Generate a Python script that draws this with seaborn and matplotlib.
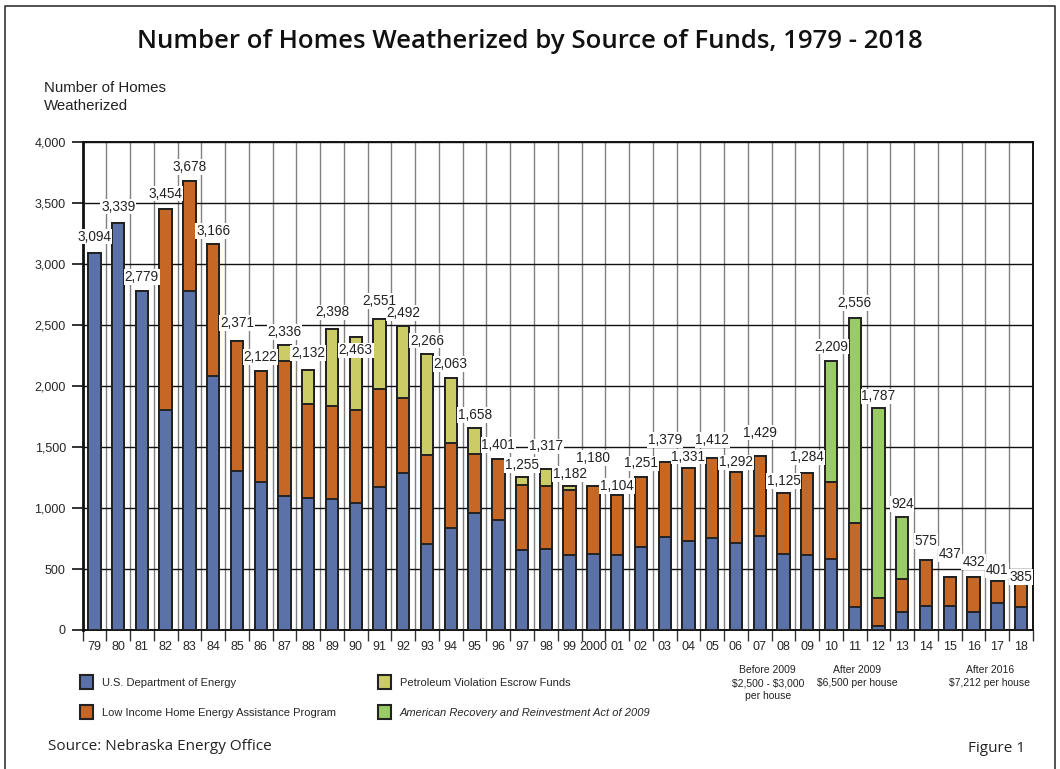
import matplotlib
matplotlib.use("Agg")
import matplotlib.pyplot as plt
import seaborn as sns
import pandas as pd
import numpy as np
from matplotlib.patches import Patch
from matplotlib.lines import Line2D
from matplotlib import font_manager

# ---------------- data ----------------
years = ["79", "80", "81", "82", "83", "84", "85", "86", "87", "88", "89", "90",
         "91", "92", "93", "94", "95", "96", "97", "98", "99", "2000", "01", "02",
         "03", "04", "05", "06", "07", "08", "09", "10", "11", "12", "13", "14",
         "15", "16", "17", "18"]

doe = [3094, 3339, 2779, 1800, 2779, 2085, 1303, 1210, 1098, 1079, 1071, 1044,
       1175, 1290, 702, 836, 962, 904, 656, 661, 615, 620, 612, 683,
       765, 727, 757, 710, 768, 626, 612, 579, 186, 36, 145, 197,
       197, 148, 224, 186]

liheap = [0, 0, 0, 1654, 899, 1081, 1068, 912, 1110, 773, 768, 759,
          798, 609, 735, 694, 481, 497, 530, 517, 530, 560, 492, 568,
          614, 604, 655, 582, 661, 499, 672, 637, 688, 224, 270, 378,
          240, 284, 177, 199]

pve = [0, 0, 0, 0, 0, 0, 0, 0, 128, 280, 625, 596,
       578, 593, 829, 533, 215, 0, 69, 139, 37, 0, 0, 0,
       0, 0, 0, 0, 0, 0, 0, 0, 0, 0, 0, 0,
       0, 0, 0, 0]

arra = [0, 0, 0, 0, 0, 0, 0, 0, 0, 0, 0, 0,
        0, 0, 0, 0, 0, 0, 0, 0, 0, 0, 0, 0,
        0, 0, 0, 0, 0, 0, 0, 993, 1682, 1557, 509, 0,
        0, 0, 0, 0]

total_labels = ["3,094", "3,339", "2,779", "3,454", "3,678", "3,166", "2,371", "2,122",
                "2,336", "2,132", "2,398", "2,463", "2,551", "2,492", "2,266", "2,063",
                "1,658", "1,401", "1,255", "1,317", "1,182", "1,180", "1,104", "1,251",
                "1,379", "1,331", "1,412", "1,292", "1,429", "1,125", "1,284", "2,209",
                "2,556", "1,787", "924", "575", "437", "432", "401", "385"]

series_names = ["U.S. Department of Energy",
                "Low Income Home Energy Assistance Program",
                "Petroleum Violation Escrow Funds",
                "American Recovery and Reinvestment Act of 2009"]

notes = ["Before 2009\n$2,500 - $3,000\nper house",
         "After 2009\n$6,500 per house",
         "After 2016\n$7,212 per house"]

# label vertical offsets above bar top (pixels), layout only
label_dy = [16, 16, 14, 15, 14, 13, 18, 14, 13, 17, 17, -13, 18, 13, 13, 14, 13, 14,
            12, 23, 12, 28, 9, 14, 22, 11, 18, 10, 23, 12, 16, 14, 15, 12, 13, 19,
            23, 15, 11, 6]

# ---------------- style ----------------
c_doe = "#5b72a9"
c_lih = "#c66825"
c_pve = "#cccc66"
c_arra = "#99cc66"
edge = "#222222"

sns.set_theme(style="white")
avail = {f.name for f in font_manager.fontManager.ttflist}
narrow = "Liberation Sans Narrow" if "Liberation Sans Narrow" in avail else "Liberation Sans"
title_font = "Open Sans" if "Open Sans" in avail else "DejaVu Sans"
plt.rcParams["font.family"] = [narrow, "DejaVu Sans"]

df = pd.DataFrame({"year": years, "doe": doe, "liheap": liheap, "pve": pve, "arra": arra})
df["c1"] = df["doe"]
df["c2"] = df["c1"] + df["liheap"]
df["c3"] = df["c2"] + df["pve"]
df["c4"] = df["c3"] + df["arra"]

fig = plt.figure(figsize=(10.6, 7.69), dpi=100)
ax = fig.add_axes([82.5 / 1060, 139 / 769, (1033 - 82.5) / 1060, 488 / 769])

for col, colr in [("c4", c_arra), ("c3", c_pve), ("c2", c_lih), ("c1", c_doe)]:
    sns.barplot(data=df, x="year", y=col, order=years, color=colr, saturation=1,
                width=0.52, edgecolor=edge, linewidth=1.4, errorbar=None, ax=ax, zorder=3)

ax.set_xlabel("")
ax.set_ylabel("")
ax.set_xlim(-0.5, len(years) - 0.5)
ax.set_ylim(0, 4000)

# grid
ax.set_axisbelow(True)
ax.set_xticks(np.arange(len(years)))
ax.set_xticklabels(years)
ax.set_xticks(np.arange(-0.5, len(years), 1.0), minor=True)
ax.grid(which="minor", axis="x", color="#808080", lw=1.0, zorder=0)
ax.grid(which="major", axis="x", visible=False)
ax.set_yticks(np.arange(0, 4001, 500))
ax.set_yticklabels([f"{v:,}" for v in range(0, 4001, 500)])
ax.grid(which="major", axis="y", color="#111111", lw=1.0, zorder=0)

ax.tick_params(axis="x", which="major", bottom=False, length=0, pad=8, labelsize=9)
ax.tick_params(axis="x", which="minor", bottom=True, length=8, width=1, color="#333333",
               direction="out")
ax.tick_params(axis="y", which="major", left=True, length=8, width=1.2, color="#111111",
               direction="out", pad=4, labelsize=9)
for s in ax.spines.values():
    s.set_visible(True)
    s.set_color("#111111")
    s.set_linewidth(1.4)
ax.spines["left"].set_linewidth(2)

# value labels
for i, (tot, txt, dy) in enumerate(zip(df["c4"], total_labels, label_dy)):
    ax.annotate(txt, (i, tot), xytext=(0, dy * 0.72), textcoords="offset points",
                ha="center", va="center", fontsize=9.8, color="#222222", zorder=5,
                bbox=dict(fc="white", ec="none", pad=0.6))

# notes under axis
xt = ax.get_xaxis_transform()
for xpos, note in zip([28.34, 32.1, 37.68], notes):
    ax.text(xpos, -0.072, note, transform=xt, ha="center", va="top", fontsize=7.5,
            linespacing=1.38, parse_math=False, color="#222222")

# legend
handles = [Patch(fc=c, ec=edge, lw=1.5, label=n)
           for c, n in zip([c_doe, c_lih, c_pve, c_arra], series_names)]
leg = fig.legend(handles=handles, ncol=2, loc="upper left",
                 bbox_to_anchor=(80 / 1060, 1 - 675 / 769), frameon=False,
                 fontsize=8, handlelength=1.17, handleheight=1.62, handletextpad=0.8,
                 columnspacing=3.8, labelspacing=1.4, borderpad=0, borderaxespad=0)
leg.get_texts()[3].set_style("italic")

# titles and texts
fig.text(0.5, 1 - 42 / 769, "Number of Homes Weatherized by Source of Funds, 1979 - 2018",
         ha="center", va="center", fontsize=18.5, family=title_font, weight="semibold",
         color="#111111")
fig.text(44 / 1060, 1 - 81 / 769, "Number of Homes\nWeatherized", ha="left", va="top",
         fontsize=10.8, linespacing=1.4, color="#222222")
fig.text(48 / 1060, 1 - 746 / 769, "Source: Nebraska Energy Office", ha="left",
         va="center", fontsize=11, family=title_font, color="#222222")
fig.text(1025 / 1060, 1 - 749 / 769, "Figure 1", ha="right", va="center",
         fontsize=11, family=title_font, color="#222222")

# outer frame
fig.add_artist(Line2D([5 / 1060, 5 / 1060, 1055 / 1060, 1055 / 1060],
                      [0, 1 - 6 / 769, 1 - 6 / 769, 0],
                      transform=fig.transFigure, color="#333333", lw=1.2))

fig.savefig("out.png", dpi=100)
